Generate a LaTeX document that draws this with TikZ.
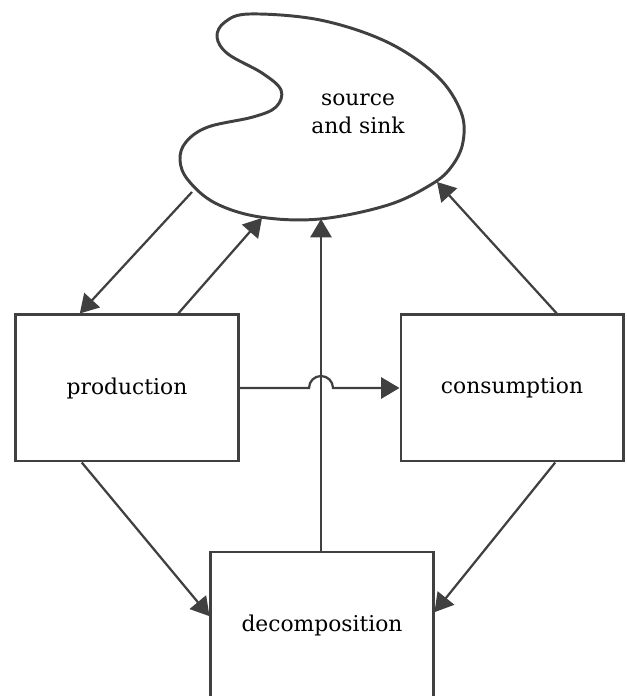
\documentclass[tikz,border=0pt]{standalone}
\usepackage{fontspec}
\setmainfont{DejaVu Serif}
\usetikzlibrary{arrows.meta}
\definecolor{ink}{RGB}{64,64,64}
\tikzset{
  box/.style = {draw = ink, line width = 2.1pt, minimum width = 5.55cm,
    minimum height = 3.65cm, text = black, font = \fontsize{15.5}{18}\selectfont},
  flow/.style = {draw = ink, line width = 1.6pt,
    -{Triangle[length = 13pt, width = 15pt]}}
}
\begin{document}
\begin{tikzpicture}[x = 0.025cm, y = 0.025cm]
        \useasboundingbox (0,0) rectangle (626,696);
        \clip (0,0) rectangle (626,696);
        %Boxes
        \node[box] (prod) at (127,308) {production};
        \node[box] (cons) at (512,308) {consumption};
        \node[box] (dec) at (322,71) {decomposition};
        %Source and sink
        \draw[ink, line width = 2.1pt] plot[smooth cycle, tension = 0.6]
        coordinates {(250,682) (320,676) (387,654) (437,620) (461,584)
        (463,554) (452,530) (432,512) (388,491) (320,477) (260,479)
        (215,493) (188,516) (180,536) (186,554) (208,569) (253,579)
        (276,589) (281,606) (262,623) (228,642) (217,659) (225,674)};
        \node[align = center, font = \fontsize{15.5}{19.5}\selectfont]
        (sink) at (358,582) {source\\and sink};
        \coordinate (out) at (192,504);
        \coordinate (inprod) at (262,478);
        \coordinate (indec) at (321,477);
        \coordinate (incons) at (437,514);
        %Flows
        \draw[flow] (out) -- ([xshift = -1.18cm]prod.north);
        \draw[flow] ([xshift = 1.28cm]prod.north) -- (inprod);
        \draw[flow] (dec.north -| indec) -- (indec);
        \draw[flow] ([xshift = 1.12cm]cons.north) -- (incons);
        \draw[flow] ([xshift = -1.13cm]prod.south) -- ([yshift = 0.22cm]dec.west);
        \draw[flow] ([xshift = 1.08cm]cons.south) -- ([yshift = 0.32cm]dec.east);
        \draw[flow] (prod.east) -- (309,308)
        arc[start angle = 180, end angle = 0, radius = 12] -- (cons.west);
    \end{tikzpicture}
\end{document}
